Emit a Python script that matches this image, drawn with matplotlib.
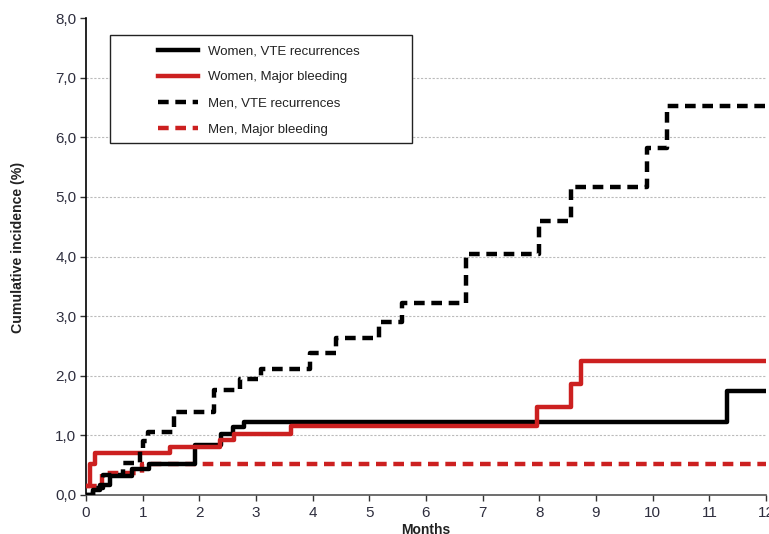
import matplotlib
matplotlib.use("Agg")
import matplotlib.pyplot as plt
from matplotlib.patches import Rectangle
from matplotlib.lines import Line2D

# ---- data (months, cumulative incidence %) ----
women_vte_x = [0, 0.12, 0.25, 0.42, 0.82, 1.12, 1.92, 2.38, 2.6, 2.78, 11.32, 12]
women_vte_y = [0, 0.08, 0.17, 0.32, 0.44, 0.52, 0.84, 1.02, 1.14, 1.23, 1.75, 1.75]

women_bleed_x = [0, 0.07, 0.16, 1.48, 2.36, 2.62, 3.62, 7.95, 8.55, 8.74, 12]
women_bleed_y = [0.15, 0.52, 0.71, 0.80, 0.92, 1.02, 1.16, 1.48, 1.86, 2.24, 2.24]

men_vte_x = [0, 0.13, 0.3, 0.65, 0.95, 1.0, 1.1, 1.55, 2.25, 2.72, 3.08, 3.95,
             4.42, 5.17, 5.57, 6.7, 8.0, 8.55, 9.9, 10.25, 12]
men_vte_y = [0, 0.12, 0.33, 0.54, 0.75, 0.9, 1.05, 1.39, 1.76, 1.95, 2.12, 2.38,
             2.63, 2.9, 3.22, 4.04, 4.6, 5.17, 5.82, 6.53, 6.53]

men_bleed_x = [0, 0.28, 0.98, 12]
men_bleed_y = [0.15, 0.37, 0.52, 0.52]

labels = ["Women, VTE recurrences", "Women, Major bleeding",
          "Men, VTE recurrences", "Men, Major bleeding"]
x_ticks = list(range(0, 13))
y_ticks = list(range(0, 9))
y_tick_labels = [f"{v},0" for v in y_ticks]

RED = "#cc2020"
TICKCOL = "#2e2e3e"
narrow = ["Liberation Sans Narrow", "Liberation Sans", "DejaVu Sans"]
regular = ["Liberation Sans", "DejaVu Sans"]

fig = plt.figure(figsize=(7.69, 5.34), dpi=100)
ax = fig.add_axes([86/769, 39/534, 680/769, 477/534])

lw = 3.2
dash = (2.4, 1.5)
ax.step(men_bleed_x, men_bleed_y, where="post", color=RED, lw=lw, dashes=dash, zorder=3)
ax.step(women_vte_x, women_vte_y, where="post", color="black", lw=lw, zorder=4)
ax.step(women_bleed_x, women_bleed_y, where="post", color=RED, lw=lw, zorder=5)
ax.step(men_vte_x, men_vte_y, where="post", color="black", lw=lw, dashes=dash, zorder=6)

ax.set_xlim(0, 12)
ax.set_ylim(0, 8)
ax.set_xticks(x_ticks)
ax.set_yticks(y_ticks)
ax.set_yticklabels(y_tick_labels)
for lab in ax.get_xticklabels() + ax.get_yticklabels():
    lab.set_family(narrow)
    lab.set_fontsize(11)
    lab.set_color(TICKCOL)

for yv in range(1, 8):
    ax.axhline(yv, color="#bbbbbb", lw=0.8, ls=(0, (2, 1.5)), zorder=1)

ax.spines["top"].set_visible(False)
ax.spines["right"].set_visible(False)
ax.spines["left"].set_color("black")
ax.spines["left"].set_linewidth(1.2)
ax.spines["bottom"].set_color("#555555")
ax.spines["bottom"].set_linewidth(1.2)
ax.tick_params(axis="both", direction="out", length=4, width=1.0, colors="#333333",
               labelcolor=TICKCOL)
ax.tick_params(axis="x", pad=4)
ax.tick_params(axis="y", pad=3)

ax.set_ylabel("Cumulative incidence (%)", fontsize=10.2, fontweight="bold",
              family=regular, color="#222222")
ax.yaxis.set_label_coords(-61/680, 0.52)
ax.set_xlabel("Months", fontsize=10, fontweight="bold", family=narrow,
              color="#222222", labelpad=2)

# legend
handles = [Line2D([], [], color="black", lw=lw),
           Line2D([], [], color=RED, lw=lw),
           Line2D([], [], color="black", lw=lw, dashes=dash),
           Line2D([], [], color=RED, lw=lw, dashes=dash)]
leg = ax.legend(handles, labels, loc="upper left",
                bbox_to_anchor=((158-86)/680, (495-45)/477),
                borderaxespad=0, frameon=False, handlelength=3.0,
                handletextpad=0.8, labelspacing=1.05, borderpad=0.0,
                prop={"family": regular, "size": 9.5})
for t in leg.get_texts():
    t.set_color("#222222")
box = Rectangle(((110-86)/680, (495-143)/477), (412-110)/680, (143-35)/477,
                transform=ax.transAxes, fill=True, facecolor="white",
                edgecolor="#222222", lw=1.0, zorder=7)
ax.add_patch(box)
leg.set_zorder(8)

fig.savefig("out.png", dpi=100)
